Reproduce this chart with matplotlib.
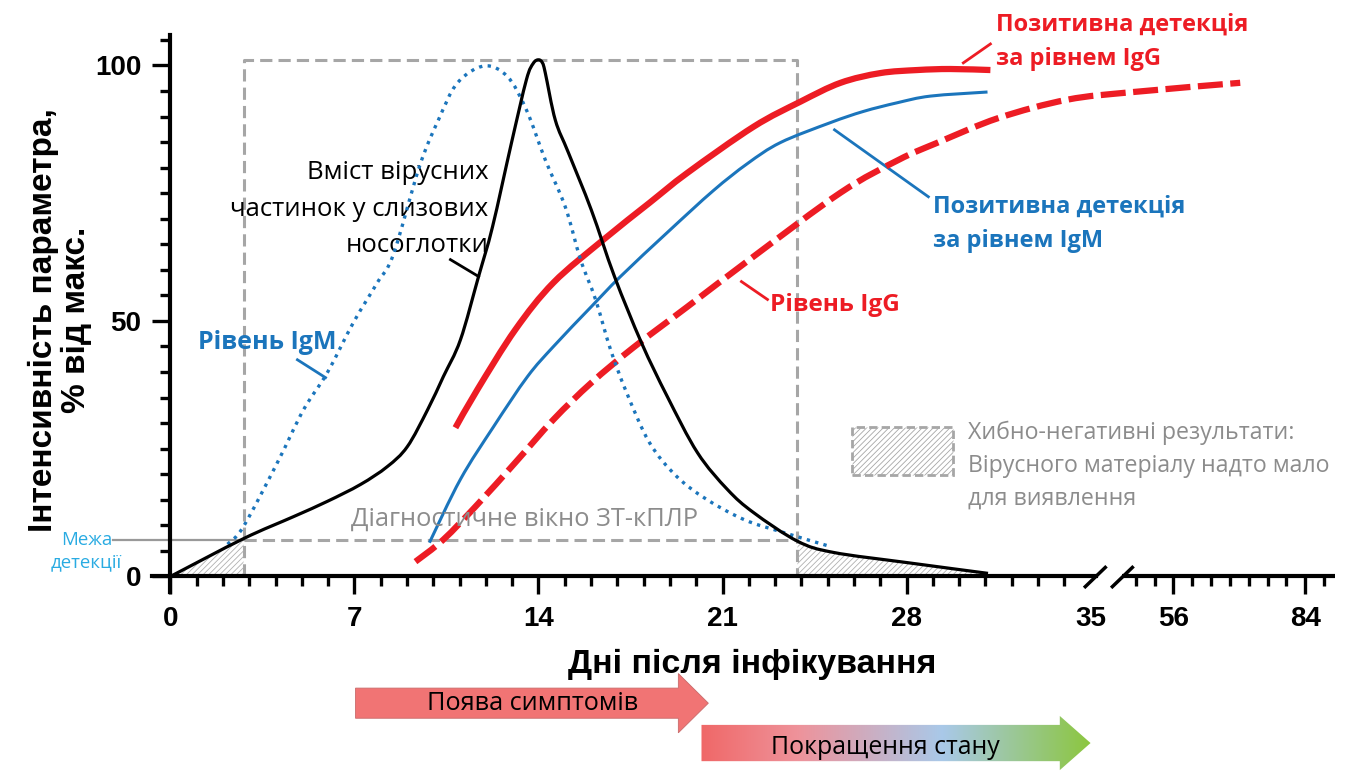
import numpy as np
import matplotlib.pyplot as plt
from matplotlib.patches import Polygon, Rectangle, PathPatch
from matplotlib.path import Path
from matplotlib.colors import LinearSegmentedColormap

# ---- data (days after infection, % of max) ----
virus_days = [0, 2.78, 4.68, 5.97, 7.23, 8.25, 9.01, 9.78, 10.38, 11.03, 11.72, 12.25,
              12.97, 13.54, 13.8, 14.0, 14.15, 14.26, 14.64, 15.14, 16.01, 16.89, 17.92,
              18.90, 20.05, 21.19, 22.18, 23.85, 25.22, 28.03, 31.1]
virus_vals = [0, 7.4, 11.7, 14.7, 18.0, 21.5, 25.4, 32.6, 39.1, 46.3, 58.7, 68.4,
              84.8, 97.2, 100.4, 101.1, 100.5, 98.5, 89.3, 82.9, 71.7, 58.7, 45.7,
              35.2, 24.2, 17.0, 12.5, 6.9, 4.7, 2.7, 0.6]

igm_days = [2.17, 2.78, 4.07, 5.06, 5.97, 6.96, 7.87, 8.48, 9.47, 10.19, 10.92, 11.94,
            12.82, 13.54, 14.26, 15.02, 15.60, 16.17, 16.74, 17.35, 18.22, 19.25, 20.39,
            21.83, 23.32, 25.07]
igm_vals = [6.3, 9.8, 22.3, 32.6, 39.9, 49.7, 57.5, 63.0, 80.2, 89.3, 96.6, 99.9,
            97.8, 91.3, 81.5, 72.3, 62.0, 54.2, 44.4, 36.0, 26.2, 19.6, 15.1,
            11.1, 8.6, 5.9]

igg_pos_days = [10.84, 11.68, 13.12, 14.57, 16.47, 18.22, 19.67, 22.18, 23.96, 25.49,
                27.0, 28.41, 29.67, 31.19]
igg_pos_vals = [29.1, 36.6, 48.3, 57.5, 65.9, 73.1, 79.0, 88.0, 92.9, 96.6,
                98.5, 99.1, 99.3, 99.1]

igm_pos_days = [9.85, 11.03, 12.29, 13.58, 14.57, 16.01, 17.12, 18.94, 20.65,
                21.95, 23.20, 25.10, 26.36, 27.65, 28.91, 31.08]
igm_pos_vals = [6.6, 19.0, 29.3, 39.1, 45.0, 52.8, 58.7, 67.5, 75.5,
                80.8, 84.9, 88.8, 91.0, 92.7, 94.0, 94.8]

igg_days = [9.32, 10.38, 11.68, 13.12, 14.57, 16.01, 17.61, 19.67, 22.18, 25.49,
            27.69, 29.14, 31.49, 34.12, 47.5, 70.2]
igg_vals = [2.9, 7.2, 14.1, 22.3, 30.7, 37.9, 44.8, 52.8, 62.6, 75.1,
            81.5, 84.8, 89.7, 93.3, 94.8, 96.6]

window_start, window_end = 2.78, 23.85
detection_limit = 7.2

major_days = [0, 7, 14, 21, 28, 35, 56, 84]
minor_days = [d for d in range(1, 35) if d % 7] + [48, 52, 60, 64, 68, 72, 76, 80, 88]

symptoms_span = (7.04, 20.46)
improve_span = (20.2, 35.0)


def xpos(d):
    # broken axis: linear up to 35, compressed scale after the break
    d = np.asarray(d, dtype=float)
    return np.where(d <= 35, d, 38.15 + (d - 56) * 0.1791)


def smooth_path(x, y):
    # Catmull-Rom through the points, drawn as cubic Bezier segments
    pts = np.column_stack([x, y]).astype(float)
    verts = [pts[0]]
    codes = [Path.MOVETO]
    n = len(pts)
    for i in range(n - 1):
        p0 = pts[i - 1] if i > 0 else pts[i]
        p1 = pts[i]
        p2 = pts[i + 1]
        p3 = pts[i + 2] if i + 2 < n else pts[i + 1]
        verts += [p1 + (p2 - p0) / 6, p2 - (p3 - p1) / 6, p2]
        codes += [Path.CURVE4] * 3
    return Path(verts, codes)


def curve(ax, x, y, **kw):
    pp = PathPatch(smooth_path(x, y), facecolor='none', capstyle='butt', joinstyle='round', **kw)
    ax.add_patch(pp)
    return pp


RED = '#ed1c24'
BLUE = '#1b75bc'
GRAY = '#a6a6a6'
TXTGRAY = '#8c8c8c'
HATCH = '#b0b0b0'
LAB = ['Open Sans', 'DejaVu Sans']
AX = ['Liberation Sans', 'DejaVu Sans']

plt.rcParams['hatch.color'] = HATCH
plt.rcParams['hatch.linewidth'] = 0.6

fig = plt.figure(figsize=(13.54, 7.71), dpi=100)
ax = fig.add_axes([0.1123, 0.2318, 0.8737, 0.7231])
ax.set_xlim(-0.7, 44.3)
ax.set_ylim(-3.1, 106)

# diagnostic window
ax.plot([window_start, window_start, window_end, window_end],
        [0, 101, 101, 0], color=GRAY, lw=2.2, ls=(0, (4, 2)), zorder=1)
ax.plot([window_start, window_end], [detection_limit, detection_limit],
        color=GRAY, lw=2.2, ls=(0, (4, 2)), zorder=1)
ax.plot([-2.17, window_start], [detection_limit, detection_limit],
        color='#999999', lw=1.6, clip_on=False, zorder=1)

# hatched false-negative areas
vd = np.array(virus_days)
vv = np.array(virus_vals)
m1 = vd <= window_start
m2 = vd >= window_end
ax.fill_between(vd[m1], 0, vv[m1], facecolor='none', edgecolor=HATCH, hatch='//////', lw=0, zorder=1)
ax.fill_between(vd[m2], 0, vv[m2], facecolor='none', edgecolor=HATCH, hatch='//////', lw=0, zorder=1)

# curves
curve(ax, xpos(igg_days), igg_vals, edgecolor=RED, lw=4.5, ls=(0, (4, 1.2)), zorder=3)
curve(ax, igm_pos_days, igm_pos_vals, edgecolor=BLUE, lw=2.2, zorder=3)
curve(ax, igg_pos_days, igg_pos_vals, edgecolor=RED, lw=4.5, zorder=4)
curve(ax, igm_days, igm_vals, edgecolor=BLUE, lw=2.4, ls=(0, (1, 1.6)), zorder=4)
curve(ax, virus_days, virus_vals, edgecolor='black', lw=2.3, zorder=5)

# axes styling
for s in ['top', 'right']:
    ax.spines[s].set_visible(False)
ax.spines['left'].set_position(('data', 0))
ax.spines['bottom'].set_position(('data', 0))
ax.spines['left'].set_linewidth(3)
ax.spines['bottom'].set_linewidth(3)
ax.spines['bottom'].set_bounds(-0.7, 35.2)
ax.plot([36.2, 44.3], [0, 0], color='black', lw=3, clip_on=False, solid_capstyle='butt')
ax.plot([34.80, 35.56], [-2.0, 1.76], color='black', lw=2.5, clip_on=False)
ax.plot([35.83, 36.59], [-2.0, 1.76], color='black', lw=2.5, clip_on=False)

ax.set_xticks(xpos(major_days))
ax.set_xticklabels([str(d) for d in major_days])
ax.set_xticks(xpos(minor_days), minor=True)
ax.set_yticks([0, 50, 100])
ax.set_yticks(np.arange(0, 106, 5), minor=True)
ax.tick_params(which='major', length=13, width=2.4, direction='out', labelsize=20, pad=8)
ax.tick_params(which='minor', length=7, width=2.4, direction='out')
ax.xaxis.get_major_ticks()[5].tick1line.set_visible(False)
for lbl in ax.get_xticklabels() + ax.get_yticklabels():
    lbl.set_fontfamily(AX)
    lbl.set_fontweight('bold')

ax.set_xlabel('Дні після інфікування', fontsize=24.5, fontweight='bold', family=AX)
ax.xaxis.set_label_coords(0.5075, -0.13)
ax.xaxis.label.set_va('center')
ax.set_ylabel('Інтенсивність параметра,\n% від макс.', fontsize=24, fontweight='bold',
              family=AX, linespacing=1.05)
ax.yaxis.set_label_coords(-0.078, 0.488)
ax.yaxis.label.set_va('center')

# annotations
ax.text(12.10, 71.9, 'Вміст вірусних\nчастинок у слизових\nносоглотки', ha='right', va='center',
        fontsize=18.5, family=LAB, linespacing=1.6)
ax.plot([10.65, 11.72], [62.0, 58.7], color='black', lw=2)
ax.text(1.03, 45.7, 'Рівень IgM', color=BLUE, fontsize=18, fontweight='bold', family=LAB, va='center')
ax.plot([4.83, 5.90], [42.4, 38.9], color=BLUE, lw=2)
ax.text(22.82, 53.2, 'Рівень IgG', color=RED, fontsize=17.6, fontweight='bold', family=LAB, va='center')
ax.plot([21.72, 22.71], [57.7, 54.2], color=RED, lw=2)
ax.text(29.02, 69.0, 'Позитивна детекція\nза рівнем IgM', color=BLUE, fontsize=17,
        fontweight='bold', family=LAB, va='center', linespacing=1.55)
ax.plot([25.26, 28.83], [87.4, 74.3], color=BLUE, lw=2)
ax.text(31.42, 104.6, 'Позитивна детекція\nза рівнем IgG', color=RED, fontsize=17,
        fontweight='bold', family=LAB, va='center', linespacing=1.55)
ax.plot([30.16, 31.19], [100.5, 104.2], color=RED, lw=2, clip_on=False)
ax.text(13.47, 11.1, 'Діагностичне вікно ЗТ-кПЛР', color=TXTGRAY, fontsize=18.4,
        family=LAB, ha='center', va='center')
ax.text(-3.2, 4.9, 'Межа\nдетекції', color='#29abe2', fontsize=13.4, family=LAB,
        ha='center', va='center', linespacing=1.3)

# legend for hatched area
ax.add_patch(Rectangle((25.94, 19.9), 3.84, 9.4, facecolor='none', edgecolor=GRAY,
                       hatch='//////', lw=2, ls=(0, (3, 1.5)), zorder=2))
ax.text(30.35, 21.7, 'Хибно-негативні результати:\nВірусного матеріалу надто мало\nдля виявлення',
        color=TXTGRAY, fontsize=16.7, family=LAB, va='center', linespacing=1.5)


# arrows below the axis
def arrow_verts(x0, x1, yc, body_h, head_h, head_len):
    xb = x1 - head_len
    return [(x0, yc + body_h), (xb, yc + body_h), (xb, yc + head_h), (x1, yc),
            (xb, yc - head_h), (xb, yc - body_h), (x0, yc - body_h)]


v1 = arrow_verts(symptoms_span[0], symptoms_span[1], -24.8, 2.95, 5.8, 1.14)
p1 = Polygon(v1, closed=True, facecolor='#f17474', edgecolor='#c86a6a', lw=0.6,
             clip_on=False, zorder=2)
ax.add_patch(p1)
ax.text(13.77, -24.8, 'Поява симптомів', fontsize=18.2, family=LAB, ha='center', va='center')

v2 = arrow_verts(improve_span[0], improve_span[1], -32.6, 3.55, 5.3, 1.17)
p2 = Polygon(v2, closed=True, facecolor='none', edgecolor='none', clip_on=False)
ax.add_patch(p2)
cmap = LinearSegmentedColormap.from_list('imp', [(0, '#f06868'), (0.25, '#ee939b'),
                                                 (0.62, '#a9c9e9'), (1, '#8cc63f')])
grad = np.linspace(0, 1, 256).reshape(1, -1)
im = ax.imshow(grad, cmap=cmap, aspect='auto', extent=[improve_span[0], improve_span[1], -38.5, -26.5],
               zorder=2, interpolation='bilinear')
im.set_clip_path(p2)
im.set_clip_box(fig.bbox)
ax.text(27.2, -33.4, 'Покращення стану', fontsize=17.9, family=LAB, ha='center', va='center', zorder=3)

ax.set_xlim(-0.7, 44.3)
ax.set_ylim(-3.1, 106)
ax.set_aspect('auto')

fig.savefig('out.png', dpi=100)
